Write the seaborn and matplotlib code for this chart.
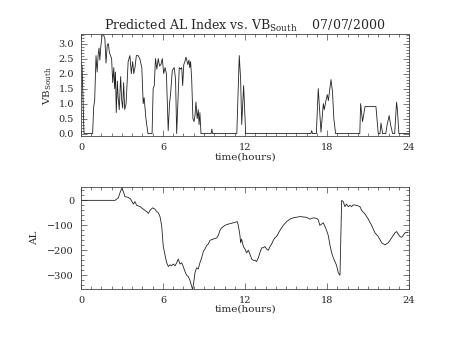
import numpy as np
import pandas as pd
import matplotlib
matplotlib.use("Agg")
import matplotlib.pyplot as plt
from matplotlib.ticker import MultipleLocator
import seaborn as sns

# ---------------- data ----------------
vb_time = [0.00, 0.08, 0.22, 0.85, 0.93, 1.00, 1.10, 1.18, 1.26, 1.32, 1.38, 1.45, 1.55, 1.65, 1.75,
           1.83, 1.92, 2.00, 2.08, 2.16, 2.24, 2.32, 2.40, 2.46, 2.52, 2.58, 2.66, 2.72, 2.80, 2.90,
           2.98, 3.05, 3.12, 3.20, 3.30, 3.45, 3.58, 3.68, 3.78, 3.86, 3.95, 4.05, 4.18, 4.30, 4.45,
           4.55, 4.62, 4.75, 4.90, 5.20, 5.28, 5.36, 5.45, 5.55, 5.65, 5.75, 5.85, 5.95, 6.05, 6.15,
           6.25, 6.38, 6.48, 6.55, 6.68, 6.82, 6.92, 7.00, 7.10, 7.19, 7.30, 7.37, 7.44, 7.52, 7.60,
           7.68, 7.76, 7.82, 7.90, 7.96, 8.02, 8.10, 8.19, 8.27, 8.34, 8.41, 8.50, 8.58, 8.64, 8.70,
           8.78, 9.52, 9.58, 9.62, 11.40, 11.58, 11.68, 11.76, 11.90, 12.05, 16.82, 16.88, 16.94,
           17.22, 17.36, 17.56, 17.73, 17.80, 17.92, 18.02, 18.10, 18.29, 18.40, 18.50, 18.63,
           20.40, 20.46, 20.60, 20.78, 21.58, 21.75, 21.88, 21.95, 22.07, 22.30, 22.40, 22.55,
           22.65, 22.80, 22.95, 23.09, 23.15, 23.26, 24.00]
vb_south = [2.35, 2.25, 0.0, 0.0, 0.9, 1.1, 2.6, 2.05, 2.65, 2.85, 2.45, 2.9, 3.3, 3.3, 3.15,
            2.35, 2.95, 3.0, 2.7, 2.6, 2.5, 1.7, 2.2, 1.5, 2.05, 0.7, 1.75, 1.2, 0.8, 1.9,
            1.1, 0.85, 1.7, 0.8, 1.0, 2.4, 2.6, 2.0, 2.4, 2.0, 2.2, 2.6, 2.6, 2.5, 2.2,
            1.0, 1.2, 0.5, 0.0, 0.0, 1.5, 1.6, 2.5, 2.15, 2.5, 2.25, 2.3, 2.5, 2.0, 2.2,
            2.0, 0.1, 1.0, 1.3, 2.1, 2.2, 1.8, 0.0, 1.2, 2.2, 2.15, 2.2, 1.6, 2.3, 2.4,
            2.55, 2.4, 2.3, 2.45, 2.2, 2.4, 1.8, 0.5, 0.4, 0.6, 1.05, 0.5, 0.8, 0.3, 0.7,
            0.0, 0.0, 0.15, 0.0, 0.0, 2.6, 1.8, 0.3, 1.6, 0.0, 0.0, 0.1, 0.0,
            0.0, 1.5, 0.05, 1.0, 0.8, 1.1, 1.3, 1.1, 1.8, 1.4, 0.5, 0.0,
            0.0, 1.0, 0.4, 0.9, 0.9, 0.0, 0.0, 0.35, 0.0, 0.0, 0.3, 0.6,
            0.3, 0.0, 0.0, 1.05, 0.8, 0.0, 0.0]

al_time = [0.00, 2.49, 2.73, 2.85, 2.98, 3.10, 3.22, 3.46, 3.63, 3.83, 3.95, 4.07, 4.32, 4.56, 4.80,
           4.93, 5.05, 5.24, 5.41, 5.54, 5.66, 5.78, 5.90, 6.02, 6.15, 6.27, 6.39, 6.51, 6.63, 6.75,
           6.88, 7.00, 7.12, 7.24, 7.37, 7.48, 7.61, 7.73, 7.85, 7.97, 8.10, 8.17, 8.27, 8.34, 8.46,
           8.58, 8.70, 8.83, 8.95, 9.07, 9.20, 9.31, 9.44, 9.68, 9.93, 10.05, 10.17, 10.29, 10.53,
           10.78, 11.14, 11.43, 11.51, 11.63, 11.68, 11.75, 11.88, 12.00, 12.12, 12.24, 12.36,
           12.49, 12.61, 12.73, 12.85, 12.97, 13.09, 13.22, 13.34, 13.46, 13.58, 13.70, 13.83,
           13.95, 14.07, 14.19, 14.31, 14.56, 14.80, 15.05, 15.29, 15.53, 16.02, 16.51, 16.75,
           17.00, 17.24, 17.36, 17.48, 17.61, 17.73, 17.85, 17.97, 18.09, 18.22, 18.34, 18.46,
           18.70, 18.82, 18.95, 19.07, 19.19, 19.31, 19.43, 19.56, 19.68, 19.80, 19.92, 20.17,
           20.41, 20.53, 20.78, 21.02, 21.26, 21.51, 21.75, 22.00, 22.24, 22.48, 22.73, 22.97,
           23.09, 23.21, 23.34, 23.46, 23.58, 23.70, 23.94]
al_index = [0, 0, 10, 30, 48, 35, 15, 12, 5, -15, -5, -20, -25, -35, -45,
            -52, -40, -30, -35, -45, -50, -65, -100, -185, -220, -250, -265, -258, -262, -255,
            -262, -250, -235, -255, -250, -265, -285, -300, -305, -320, -345, -358, -320, -290, -270,
            -275, -250, -230, -205, -195, -180, -175, -160, -155, -150, -140, -120, -110, -100,
            -95, -90, -85, -100, -140, -170, -155, -185, -195, -210, -200, -215,
            -235, -240, -240, -245, -230, -210, -190, -190, -185, -195, -200, -185,
            -175, -160, -150, -145, -120, -100, -85, -75, -70, -65, -68, -75,
            -70, -72, -78, -100, -95, -90, -105, -120, -140, -180, -210, -230,
            -260, -290, -300, 0, -5, -25, -15, -25, -20, -25, -18, -20,
            -25, -40, -55, -75, -100, -130, -145, -170, -178, -170, -150, -130,
            -125, -135, -145, -148, -140, -130, -128]

x_ticks = [0, 6, 12, 18, 24]
vb_yticks = [0.0, 0.5, 1.0, 1.5, 2.0, 2.5, 3.0]
al_yticks = [0, -100, -200, -300]

title_text = "Predicted AL Index vs. VB$_{\\mathregular{South}}$    07/07/2000"
xlabel_text = "time(hours)"
vb_label = "VB$_{\\mathregular{South}}$"
al_label = "AL"

# ---------------- style ----------------
sns.set_style("ticks")
plt.rcParams["font.family"] = ["DejaVu Serif"]
plt.rcParams["mathtext.fontset"] = "custom"
plt.rcParams["mathtext.rm"] = "DejaVu Serif"

fig = plt.figure(figsize=(4.54, 3.41), dpi=100)
fig.patch.set_facecolor("white")
ax1 = fig.add_axes([0.1784, 0.6003, 0.7225, 0.300])
ax2 = fig.add_axes([0.1784, 0.1525, 0.7225, 0.298])

df_vb = pd.DataFrame({"time": vb_time, "vb": vb_south})
df_al = pd.DataFrame({"time": al_time, "al": al_index})

sns.lineplot(data=df_vb, x="time", y="vb", ax=ax1, color="#222222", lw=0.6,
             estimator=None, sort=False)
sns.lineplot(data=df_al, x="time", y="al", ax=ax2, color="#222222", lw=0.6,
             estimator=None, sort=False)

fs = 7
for ax in (ax1, ax2):
    ax.set_facecolor("white")
    ax.set_xlim(0, 24)
    ax.set_xticks(x_ticks)
    ax.set_xticklabels([str(t) for t in x_ticks], fontsize=fs)
    ax.xaxis.set_minor_locator(MultipleLocator(0.75))
    ax.tick_params(which="both", direction="in", top=True, right=True,
                   color="#444444", width=0.5)
    ax.tick_params(which="major", length=4, pad=5)
    ax.tick_params(which="minor", length=2)
    ax.set_xlabel(xlabel_text, fontsize=fs + 0.5, labelpad=0)
    for s in ax.spines.values():
        s.set_linewidth(0.6)
        s.set_color("#444444")

ax1.set_ylim(-0.09, 3.32)
ax1.set_yticks(vb_yticks)
ax1.set_yticklabels([f"{v:.1f}" for v in vb_yticks], fontsize=fs)
ax1.yaxis.set_minor_locator(MultipleLocator(0.1))
ax1.set_ylabel(vb_label, fontsize=fs + 0.5, labelpad=3)
ax1.set_title(title_text, fontsize=fs + 2, pad=3)

ax2.set_ylim(-355, 52)
ax2.set_yticks(al_yticks)
ax2.set_yticklabels([f"{v:d}".replace("-", "\u2212") for v in al_yticks], fontsize=fs)
ax2.yaxis.set_minor_locator(MultipleLocator(20))
ax2.set_ylabel(al_label, fontsize=fs + 0.5, labelpad=6)

fig.savefig("out.png", dpi=100, facecolor="white")
